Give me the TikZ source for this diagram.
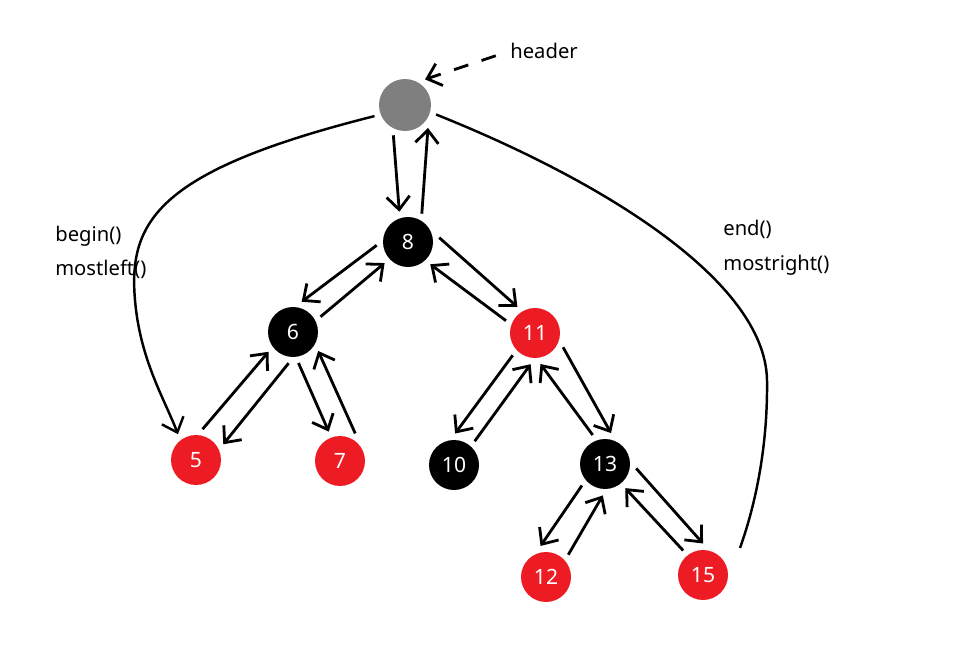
\documentclass[tikz,border=0pt]{standalone}
\usepackage{fontspec}
\setmainfont{Noto Sans}
\usetikzlibrary{arrows.meta}
\definecolor{nodered}{RGB}{237,28,36}
\definecolor{headgray}{RGB}{127,127,127}
\tikzset{
  rbnode/.style={circle, minimum size=1cm, inner sep=0pt, outer sep=0.13cm, text=white, font=\fontsize{12}{14}\selectfont},
  rednode/.style={rbnode, fill=nodered},
  blacknode/.style={rbnode, fill=black},
  link/.style={line width=1.6pt, -{Straight Barb[length=0.26cm,width=0.46cm]}},
  note/.style={anchor=west, inner sep=0pt, font=\fontsize{11.5}{13}\selectfont}
}
\begin{document}
\begin{tikzpicture}[x=0.02cm, y=-0.02cm]
  \useasboundingbox (0,0) rectangle (966,648);
  % tree
  \node[circle, fill=headgray, minimum size=1.04cm, inner sep=0pt, outer sep=0.13cm] (H) at (405,105) {};
  \node[blacknode] (n8) at (408,242) {8};
  \node[blacknode] (n6) at (293,332) {6};
  \node[rednode] (n11) at (535,333) {11};
  \node[rednode] (n5) at (196,460) {5};
  \node[rednode] (n7) at (340,461) {7};
  \node[blacknode] (n10) at (454,465) {10};
  \node[blacknode] (n13) at (605,464) {13};
  \node[rednode] (n12) at (546,577) {12};
  \node[rednode] (n15) at (703,575) {15};
  % labels
  \node[note] (hdr) at (510,51) {header};
  \node[note] (bgn) at (55,236) {begin()};
  \node[note] (mleft) at (55,269) {mostleft()};
  \node[note] (nd) at (723,229) {end()};
  \node[note] (mright) at (723,265) {mostright()};
  % parent <-> child
  \foreach \a/\p/\b/\q in {H/249/n8/106, n8/64/H/315,
      n8/186/n6/74, n6/29/n8/222, n8/8/n11/124, n11/157/n8/315,
      n6/262/n5/30, n5/78/n6/219, n6/280/n7/111, n7/61/n6/323,
      n11/225/n10/88, n10/49/n11/262, n11/333/n13/79, n13/113/n11/280,
      n13/223/n12/100, n12/45/n13/266, n13/352/n15/90, n15/129/n13/310}
    \draw[link] (\a.\p) -- (\b.\q);
  % header pointer
  \draw[link, dash pattern=on 0.3cm off 0.28cm, shorten <=0.3cm] (hdr.west) -- (H.52);
  % begin / end
  \draw[link, line width=1.4pt] (H.200) .. controls (160,170) and (128,220) .. (135,300)
    .. controls (140,360) and (165,400) .. (n5.125);
  \coordinate (e15) at (740,548);
  \draw[line width=1.4pt] (H.343) .. controls (600,180) and (765,280) .. (767,380)
    .. controls (768,460) and (750,520) .. (e15);
\end{tikzpicture}
\end{document}
